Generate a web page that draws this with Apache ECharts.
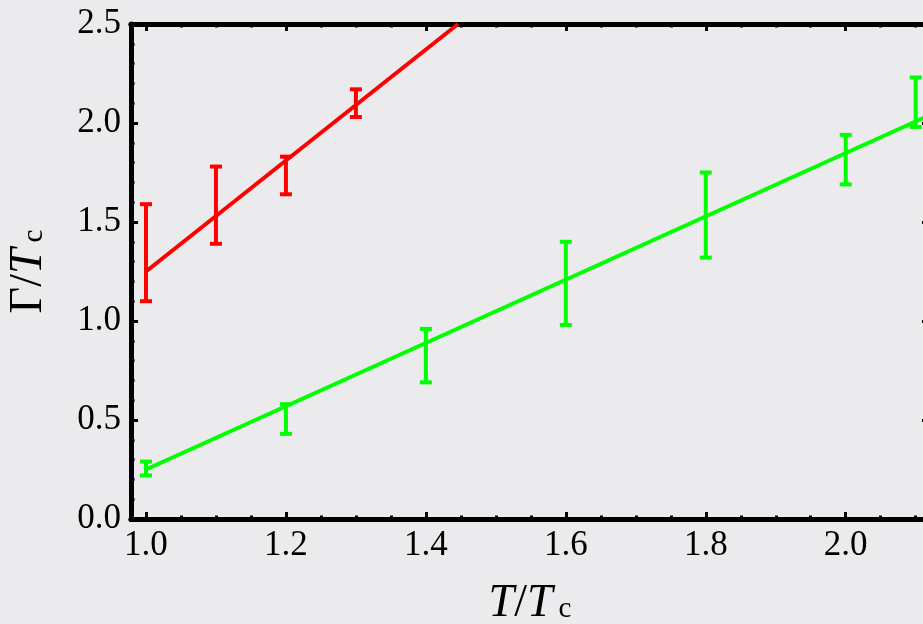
<!DOCTYPE html>
<html>
<head>
<meta charset="utf-8">
<script src="https://cdn.jsdelivr.net/npm/echarts@6/dist/echarts.min.js"></script>
<style>
  html, body { margin: 0; padding: 0; background: #ebebed; }
  #chart { width: 923px; height: 624px; }
</style>
</head>
<body>
<div id="chart"></div>
<script>
// data
var xMajor = [1.0, 1.2, 1.4, 1.6, 1.8, 2.0];
var xMinor = [1.05, 1.1, 1.15, 1.25, 1.3, 1.35, 1.45, 1.5, 1.55, 1.65, 1.7, 1.75, 1.85, 1.9, 1.95, 2.05, 2.1];
// error bars: [T/Tc, low, high]
var redBars = [[1.0, 1.10, 1.59], [1.1, 1.39, 1.78], [1.2, 1.64, 1.83], [1.3, 2.03, 2.17]];
var greenBars = [[1.0, 0.22, 0.29], [1.2, 0.43, 0.58], [1.4, 0.69, 0.96], [1.6, 0.98, 1.40],
                 [1.8, 1.32, 1.75], [2.0, 1.69, 1.94], [2.1, 1.98, 2.23]];
// fitted lines, end points
var redFit = [[1.0, 1.25], [1.446, 2.5]];
var greenFit = [[1.0, 0.25], [2.12, 2.04]];

var X_MIN = 0.9786, X_MAX = 2.119;
var FONT = 'Liberation Serif';
var black = '#000';

var chart = echarts.init(document.getElementById('chart'));

function errBar(color) {
    return function (params, api) {
        var x = api.value(0);
        var lo = api.coord([x, api.value(1)]);
        var hi = api.coord([x, api.value(2)]);
        var half = 6;
        var st = { stroke: color, lineWidth: 4 };
        return {
            type: 'group',
            children: [
                { type: 'line', shape: { x1: lo[0], y1: lo[1], x2: hi[0], y2: hi[1] }, style: st },
                { type: 'line', shape: { x1: lo[0] - half, y1: lo[1], x2: lo[0] + half, y2: lo[1] }, style: st },
                { type: 'line', shape: { x1: hi[0] - half, y1: hi[1], x2: hi[0] + half, y2: hi[1] }, style: st }
            ]
        };
    };
}

var nameRich = {
    i: { fontFamily: FONT, fontStyle: 'italic', fontSize: 46, color: black },
    n: { fontFamily: FONT, fontSize: 46, color: black },
    s: { fontFamily: FONT, fontSize: 29, color: black, padding: [10, 0, 0, 6] }
};

function xAx(pos, vals, len, first) {
    return {
        type: 'value', position: pos, min: X_MIN, max: X_MAX,
        axisLine: { show: true, onZero: false, lineStyle: { color: black, width: 5 } },
        axisTick: { show: true, inside: true, length: len, customValues: vals, lineStyle: { color: black, width: 3 } },
        axisLabel: first ? {
            show: true, customValues: xMajor, margin: 9, color: black,
            fontFamily: FONT, fontSize: 35,
            formatter: function (v) { return v.toFixed(1); }
        } : { show: false },
        splitLine: { show: false },
        name: first ? '{i|T}{n|/}{i|T}{s|c}' : '',
        nameLocation: 'middle', nameGap: 62,
        nameTextStyle: { rich: nameRich }
    };
}

function yAx(pos, first) {
    return {
        type: 'value', position: pos, min: 0, max: 2.5, interval: 0.5,
        axisLine: { show: true, onZero: false, lineStyle: { color: black, width: 5 } },
        axisTick: { show: true, inside: true, length: 7, lineStyle: { color: black, width: 3 } },
        minorTick: { show: true, splitNumber: 5, length: 3.5, lineStyle: { color: black, width: 3 } },
        axisLabel: first ? {
            show: true, margin: 10, color: black, fontFamily: FONT, fontSize: 35,
            formatter: function (v) { return v.toFixed(1); }
        } : { show: false },
        splitLine: { show: false },
        name: first ? '{n|Γ/}{i|T}{s|c}' : '',
        nameLocation: 'middle', nameGap: 79,
        nameTextStyle: { rich: nameRich }
    };
}

var option = {
    backgroundColor: '#ebebed',
    animation: false,
    grid: { left: 131, right: -6, top: 24, bottom: 105, containLabel: false, outerBoundsMode: 'none' },
    xAxis: [
        xAx('bottom', xMajor, 7, true),
        xAx('bottom', xMinor, 3.5, false),
        xAx('top', xMajor, 7, false),
        xAx('top', xMinor, 3.5, false)
    ],
    yAxis: [yAx('left', true), yAx('right', false)],
    series: [
        {
            type: 'line', data: redFit, showSymbol: false, clip: true,
            lineStyle: { color: '#ff0000', width: 4 }
        },
        {
            type: 'line', data: greenFit, showSymbol: false, clip: true,
            lineStyle: { color: '#00ff00', width: 4 }
        },
        { type: 'custom', data: redBars, renderItem: errBar('#ff0000'), clip: true },
        { type: 'custom', data: greenBars, renderItem: errBar('#00ff00'), clip: true }
    ]
};

chart.setOption(option);
</script>
</body>
</html>
